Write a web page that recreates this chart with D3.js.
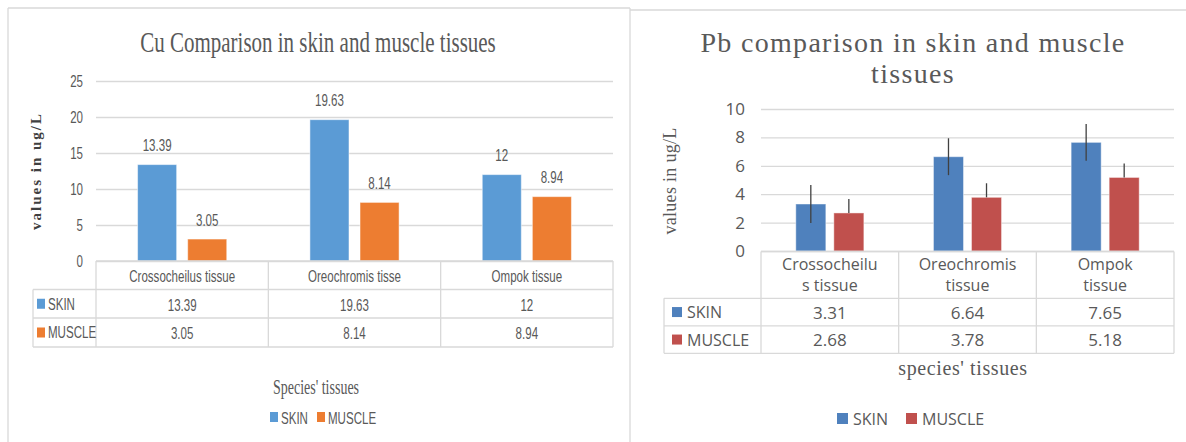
<!DOCTYPE html>
<html>
<head>
<meta charset="utf-8">
<script src="https://cdn.jsdelivr.net/npm/d3@7"></script>
<style>
  body { margin: 0; background: #fff; }
  svg { display: block; }
</style>
</head>
<body>
<svg id="chart"></svg>
<script>
const width = 1186;
const height = 442;

// data
const series = ['SKIN', 'MUSCLE'];
const cuCategories = ['Crossocheilus tissue', 'Oreochromis tisse', 'Ompok tissue'];
const cuSkin = [13.39, 19.63, 12];
const cuMuscle = [3.05, 8.14, 8.94];
const cuTicks = [0, 5, 10, 15, 20, 25];

const pbCategories = ['Crossocheilus tissue', 'Oreochromis tissue', 'Ompok tissue'];
const pbHeaderLines = [['Crossocheilu', 's tissue'], ['Oreochromis', 'tissue'], ['Ompok', 'tissue']];
const pbSkin = [3.31, 6.64, 7.65];
const pbMuscle = [2.68, 3.78, 5.18];
const pbSkinErr = [1.34, 1.3, 1.3];
const pbMuscleErr = [0.98, 0.99, 0.99];
const pbTicks = [0, 2, 4, 6, 8, 10];

const cuColors = {SKIN: '#5B9BD5', MUSCLE: '#ED7D31'};
const pbColors = {SKIN: '#4F81BD', MUSCLE: '#C0504D'};
const gridCol = '#d9d9d9';
const txtCol = '#595959';

const svg = d3.select('#chart')
  .attr('width', width)
  .attr('height', height)
  .attr('viewBox', [0, 0, width, height]);

// little helper, left chart text is squashed sideways so sx < 1 there
const addText = (g, x, y, str, o = {}) => g.append('text')
  .attr('transform', `translate(${x},${y}) scale(${o.sx || 1},1)` + (o.rotate ? ` rotate(${o.rotate})` : ''))
  .attr('text-anchor', o.anchor || 'middle')
  .attr('dominant-baseline', 'central')
  .attr('font-family', o.family || 'Liberation Sans, Arial, sans-serif')
  .attr('font-size', o.size || 15)
  .attr('font-weight', o.weight || 'normal')
  .attr('letter-spacing', o.ls || 0)
  .attr('fill', o.fill || txtCol)
  .text(str);

const hline = (g, x1, x2, y) => g.append('line').attr('x1', x1).attr('x2', x2).attr('y1', y).attr('y2', y)
  .attr('stroke', gridCol).attr('stroke-width', 1.3);
const vline = (g, x, y1, y2) => g.append('line').attr('x1', x).attr('x2', x).attr('y1', y1).attr('y2', y2)
  .attr('stroke', gridCol).attr('stroke-width', 1.3);

// panel frames
const frame = svg.append('g');
hline(frame, 8, 630, 8);
vline(frame, 8, 8, height);
vline(frame, 630, 8, height);
hline(frame, 630, width, 10);

/* ---------------- Cu chart (left) ---------------- */
const cu = svg.append('g');
const SX = 0.7;       // sans squash
const SXS = 0.7;      // serif squash
const FS = 16.5;
const cuX = d3.scaleBand().domain(cuCategories).range([96, 613]);
const cuXs = d3.scaleBand().domain(series).range([0, cuX.bandwidth()]).paddingInner(0.22).paddingOuter(0.83);
const cuY = d3.scaleLinear().domain([0, 25]).range([261, 81]);

addText(cu, 318, 42, 'Cu Comparison in skin and muscle tissues', {family: 'Liberation Serif, Times New Roman, serif', size: 30, sx: SXS});

const cuAxis = cu.append('g')
  .attr('transform', 'translate(96,0)')
  .call(d3.axisLeft(cuY).tickValues(cuTicks).tickSize(-(613 - 96)).tickPadding(13));
cuAxis.select('.domain').remove();
cuAxis.selectAll('line').attr('stroke', gridCol).attr('stroke-width', 1.3);
cuAxis.selectAll('text')
  .attr('x', null).attr('dy', '0.35em')
  .attr('transform', `translate(-13,0) scale(${SX},1)`)
  .attr('font-family', 'Liberation Sans, Arial, sans-serif')
  .attr('font-size', FS).attr('fill', txtCol);

addText(cu, 36, 171, 'values in ug/L', {family: 'Liberation Serif, Times New Roman, serif', size: 15, weight: 'bold', rotate: -90, ls: 2, fill: '#404040'});

const cuRows = series.map(s => ({key: s, values: s === 'SKIN' ? cuSkin : cuMuscle}));
cuRows.forEach(row => {
  cu.append('g').selectAll('rect')
    .data(row.values)
    .enter()
    .append('rect')
      .attr('x', (d, i) => cuX(cuCategories[i]) + cuXs(row.key))
      .attr('y', d => cuY(d))
      .attr('width', cuXs.bandwidth())
      .attr('height', d => cuY(0) - cuY(d))
      .attr('fill', cuColors[row.key])
      .attr('stroke', '#fff').attr('stroke-opacity', 0.5);
  row.values.forEach((d, i) => {
    addText(cu, cuX(cuCategories[i]) + cuXs(row.key) + cuXs.bandwidth() / 2, cuY(d) - 19, d, {size: FS, sx: SX});
  });
});

// data table under the plot
const cuT = [261, 289.5, 318, 347];
hline(cu, 96, 613, cuT[0]);
cuT.slice(1).forEach(y => hline(cu, 33, 613, y));
vline(cu, 33, cuT[1], cuT[3]);
cuCategories.forEach(c => vline(cu, cuX(c), cuT[0], cuT[3]));
vline(cu, 613, cuT[0], cuT[3]);
cuCategories.forEach(c => addText(cu, cuX(c) + cuX.bandwidth() / 2, (cuT[0] + cuT[1]) / 2 + 1, c, {size: FS, sx: SX}));
cuRows.forEach((row, r) => {
  const yc = (cuT[r + 1] + cuT[r + 2]) / 2;
  cu.append('rect').attr('x', 37).attr('y', yc - 5).attr('width', 8).attr('height', 10).attr('fill', cuColors[row.key]);
  addText(cu, 48, yc, row.key, {size: FS, sx: SX, anchor: 'start'});
  row.values.forEach((d, i) => addText(cu, cuX(cuCategories[i]) + cuX.bandwidth() / 2, yc + 1, d, {size: FS, sx: SX}));
});

addText(cu, 316, 388, "Species' tissues", {family: 'Liberation Serif, Times New Roman, serif', size: 20, sx: SXS});

// legend
const cuLeg = cu.append('g');
[[270, 'SKIN'], [317, 'MUSCLE']].forEach(([lx, s]) => {
  cuLeg.append('rect').attr('x', lx).attr('y', 412).attr('width', 8).attr('height', 10).attr('fill', cuColors[s]);
  addText(cuLeg, lx + 11, 418, s, {size: FS, sx: SX, anchor: 'start'});
});

/* ---------------- Pb chart (right) ---------------- */
const pb = svg.append('g');
const sans = 'Open Sans, Liberation Sans, sans-serif';
const serif = 'Liberation Serif, Times New Roman, serif';
const pbX = d3.scaleBand().domain(pbCategories).range([761, 1174]);
const pbXs = d3.scaleBand().domain(series).range([0, pbX.bandwidth()]).paddingInner(0.21).paddingOuter(0.915);
const pbY = d3.scaleLinear().domain([0, 10]).range([251, 109]);

addText(pb, 913, 42, 'Pb comparison  in skin and muscle', {family: serif, size: 28, ls: 1.3});
addText(pb, 913, 73, 'tissues', {family: serif, size: 28, ls: 1.3});

const pbAxis = pb.append('g')
  .attr('transform', 'translate(761,0)')
  .call(d3.axisLeft(pbY).tickValues(pbTicks).tickSize(-(1174 - 761)).tickPadding(16));
pbAxis.select('.domain').remove();
pbAxis.selectAll('line').attr('stroke', gridCol).attr('stroke-width', 1.3);
pbAxis.selectAll('text')
  .attr('font-family', sans).attr('font-size', 17).attr('fill', txtCol);

addText(pb, 670, 181, 'values in ug/L', {family: serif, size: 18, rotate: -90, ls: 0.3});

const pbRows = series.map(s => ({
  key: s,
  values: s === 'SKIN' ? pbSkin : pbMuscle,
  err: s === 'SKIN' ? pbSkinErr : pbMuscleErr
}));
pbRows.forEach(row => {
  const bars = pb.append('g');
  bars.selectAll('rect')
    .data(row.values)
    .enter()
    .append('rect')
      .attr('x', (d, i) => pbX(pbCategories[i]) + pbXs(row.key))
      .attr('y', d => pbY(d))
      .attr('width', pbXs.bandwidth())
      .attr('height', d => pbY(0) - pbY(d))
      .attr('fill', pbColors[row.key])
      .attr('stroke', '#fff').attr('stroke-opacity', 0.45);
  // error bars; the muscle minus half is hidden behind the bar
  bars.selectAll('line')
    .data(row.values)
    .enter()
    .append('line')
      .attr('x1', (d, i) => pbX(pbCategories[i]) + pbXs(row.key) + pbXs.bandwidth() / 2)
      .attr('x2', (d, i) => pbX(pbCategories[i]) + pbXs(row.key) + pbXs.bandwidth() / 2)
      .attr('y1', (d, i) => pbY(d + row.err[i]))
      .attr('y2', (d, i) => row.key === 'SKIN' ? pbY(d - row.err[i]) : pbY(d))
      .attr('stroke', '#404040').attr('stroke-width', 1.3);
});

const pbT = [251.5, 298.3, 325.8, 353.3];
hline(pb, 761, 1174, pbT[0]);
pbT.slice(1).forEach(y => hline(pb, 664, 1174, y));
vline(pb, 664, pbT[1], pbT[3]);
pbCategories.forEach(c => vline(pb, pbX(c), pbT[0], pbT[3]));
vline(pb, 1174, pbT[0], pbT[3]);
pbHeaderLines.forEach((lines, i) => {
  const cx = pbX(pbCategories[i]) + pbX.bandwidth() / 2;
  lines.forEach((l, k) => addText(pb, cx, 264 + k * 20.5, l, {family: sans, size: 16}));
});
pbRows.forEach((row, r) => {
  const yc = (pbT[r + 1] + pbT[r + 2]) / 2;
  pb.append('rect').attr('x', 672).attr('y', yc - 5).attr('width', 10).attr('height', 10).attr('fill', pbColors[row.key]);
  addText(pb, 687, yc, row.key, {family: sans, size: 16, anchor: 'start'});
  row.values.forEach((d, i) => addText(pb, pbX(pbCategories[i]) + pbX.bandwidth() / 2, yc, d.toFixed(2), {family: sans, size: 17}));
});

addText(pb, 963, 368, "species' tissues", {family: serif, size: 20, ls: 0.6});

const pbLeg = pb.append('g');
[[837, 'SKIN'], [906, 'MUSCLE']].forEach(([lx, s]) => {
  pbLeg.append('rect').attr('x', lx).attr('y', 413).attr('width', 11).attr('height', 11).attr('fill', pbColors[s]);
  addText(pbLeg, lx + 16, 418.5, s, {family: sans, size: 16, anchor: 'start'});
});
</script>
</body>
</html>
